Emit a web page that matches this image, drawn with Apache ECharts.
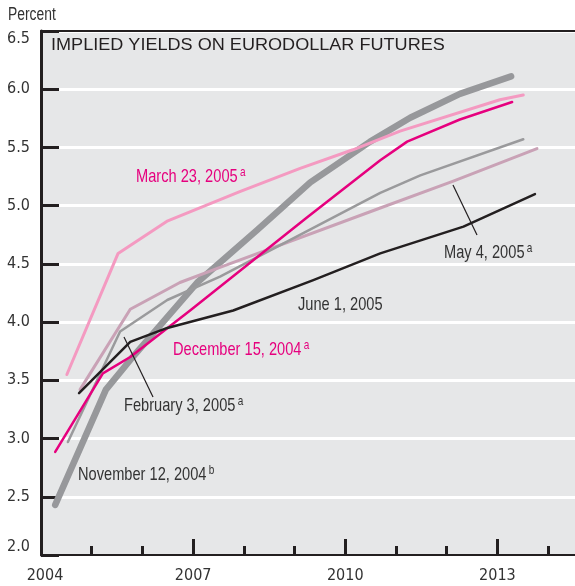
<!DOCTYPE html>
<html>
<head>
<meta charset="utf-8">
<script src="https://cdn.jsdelivr.net/npm/echarts@6/dist/echarts.min.js"></script>
<style>
  html, body { margin: 0; padding: 0; background: #fff; }
  #chart { width: 575px; height: 586px; }
</style>
</head>
<body>
<div id="chart"></div>
<script>
// [year, percent]
const nov12_2004 = [[2004.28, 2.43], [2005.28, 3.42], [2005.76, 3.675], [2007.08, 4.34], [2008.26, 4.79], [2009.31, 5.20], [2010.49, 5.55], [2011.28, 5.755], [2012.26, 5.96], [2013.27, 6.11]];
const dec15_2004 = [[2004.28, 2.885], [2005.22, 3.56], [2005.76, 3.70], [2006.94, 4.10], [2009.25, 4.90], [2010.69, 5.39], [2011.22, 5.55], [2012.26, 5.74], [2013.29, 5.89]];
const feb03_2005 = [[2004.53, 2.97], [2005.56, 3.92], [2006.49, 4.19], [2007.53, 4.39], [2010.69, 5.11], [2011.48, 5.26], [2013.51, 5.57]];
const mar23_2005 = [[2004.51, 3.55], [2005.52, 4.59], [2006.50, 4.87], [2007.92, 5.12], [2009.11, 5.32], [2010.15, 5.48], [2011.08, 5.64], [2013.05, 5.91], [2013.51, 5.95]];
const may04_2005 = [[2004.77, 3.42], [2005.76, 4.11], [2006.74, 4.34], [2007.53, 4.47], [2010.69, 4.98], [2012.13, 5.21], [2013.78, 5.49]];
const jun01_2005 = [[2004.75, 3.39], [2005.76, 3.83], [2006.49, 3.95], [2007.79, 4.10], [2009.37, 4.36], [2010.69, 4.59], [2012.33, 4.82], [2013.74, 5.10]];
const yearLabels = [2004, 2007, 2010, 2013];
const yearTicks = [2004, 2005, 2006, 2007, 2008, 2009, 2010, 2011, 2012, 2013, 2014];

const AXIS_FONT = '"DejaVu Sans Condensed", "Liberation Sans", sans-serif';
const NOTE_FONT = '"Liberation Sans", Arial, sans-serif';
const DARK = '#231f20';
const TEXT = '#333333';
const MAGENTA = '#e6007e';
const X_MIN = 2004, X_MAX = 2014.53;

const chart = echarts.init(document.getElementById('chart'));

function line(name, data, color, width) {
  return {
    name: name, type: 'line', data: data, symbol: 'none',
    lineStyle: { color: color, width: width, cap: 'round', join: 'round' },
    animation: false
  };
}

// condensed-looking annotation: wide font squeezed horizontally
function note(x, y, text, color, sup, size) {
  const fs = size || 19;
  return {
    type: 'text', x: x, y: y, scaleX: 0.77, z: 100,
    style: {
      text: sup ? '{m|' + text + '}{s|' + sup + '}' : '{m|' + text + '}',
      fill: color, align: 'left', verticalAlign: 'middle',
      rich: {
        m: { fontFamily: NOTE_FONT, fontSize: fs, lineHeight: 22, fill: color },
        s: { fontFamily: NOTE_FONT, fontSize: 13, lineHeight: 13, verticalAlign: 'top', padding: [0, 0, 0, 3], fill: color }
      }
    }
  };
}

const option = {
  backgroundColor: '#fff',
  animation: false,
  grid: {
    left: 41, top: 31, right: 0, bottom: 31,
    show: true, backgroundColor: '#e6e7e8', borderWidth: 0
  },
  xAxis: [
    {
      type: 'value', min: X_MIN, max: X_MAX,
      axisLine: { show: true, lineStyle: { color: DARK, width: 2 } },
      axisTick: { show: true, inside: true, length: 16, customValues: yearLabels, lineStyle: { color: DARK, width: 3 } },
      axisLabel: {
        margin: 13, fontFamily: AXIS_FONT, fontSize: 16, color: TEXT,
        customValues: yearLabels,
        formatter: v => v === X_MIN ? '{first|' + v + '}' : String(v),
        rich: { first: { fontFamily: AXIS_FONT, fontSize: 16, color: TEXT, padding: [0, 0, 0, 8] } }
      },
      splitLine: { show: false }
    },
    {
      type: 'value', min: X_MIN, max: X_MAX, position: 'bottom',
      axisLine: { show: false },
      axisTick: { show: true, inside: true, length: 9, customValues: yearTicks, lineStyle: { color: DARK, width: 3 } },
      axisLabel: { show: false },
      splitLine: { show: false }
    },
    {
      type: 'value', min: X_MIN, max: X_MAX, position: 'top',
      axisLine: { show: true, lineStyle: { color: DARK, width: 2 } },
      axisTick: { show: false }, axisLabel: { show: false }, splitLine: { show: false }
    }
  ],
  yAxis: {
    type: 'value', min: 2, max: 6.5, interval: 0.5,
    axisLine: { show: true, lineStyle: { color: DARK, width: 3 } },
    axisTick: { show: true, inside: true, length: 18, lineStyle: { color: DARK, width: 3 } },
    axisLabel: {
      margin: 11, fontFamily: AXIS_FONT, fontSize: 16, color: TEXT,
      verticalAlignMinLabel: 'bottom', verticalAlignMaxLabel: 'top',
      formatter: v => v.toFixed(1)
    },
    splitLine: { show: true, lineStyle: { color: '#ffffff', width: 3 } }
  },
  series: [
    line('November 12, 2004', nov12_2004, '#97989b', 6.5),
    line('May 4, 2005', may04_2005, '#c9a2b6', 3),
    line('February 3, 2005', feb03_2005, '#9a9a9c', 2.5),
    line('March 23, 2005', mar23_2005, '#f49ac1', 3),
    line('December 15, 2004', dec15_2004, MAGENTA, 2.5),
    line('June 1, 2005', jun01_2005, DARK, 2.5)
  ],
  graphic: [
    note(8, 15, 'Percent', TEXT, null, 18),
    {
      type: 'text', x: 51, y: 46, scaleX: 1.13, z: 100,
      style: { text: 'IMPLIED YIELDS ON EURODOLLAR FUTURES', fill: DARK, font: '16px ' + NOTE_FONT, verticalAlign: 'middle' }
    },
    note(136, 177, 'March 23, 2005', MAGENTA, 'a'),
    note(444, 253, 'May 4, 2005', TEXT, 'a'),
    note(298, 305, 'June 1, 2005', TEXT),
    note(173, 350, 'December 15, 2004', MAGENTA, 'a'),
    note(124, 406, 'February 3, 2005', TEXT, 'a'),
    note(78, 475, 'November 12, 2004', TEXT, 'b'),
    { type: 'line', z: 100, shape: { x1: 124, y1: 337, x2: 153, y2: 397 }, style: { stroke: DARK, lineWidth: 1.2 } },
    { type: 'line', z: 100, shape: { x1: 453, y1: 185, x2: 477, y2: 235 }, style: { stroke: DARK, lineWidth: 1.2 } }
  ]
};

chart.setOption(option);
</script>
</body>
</html>
